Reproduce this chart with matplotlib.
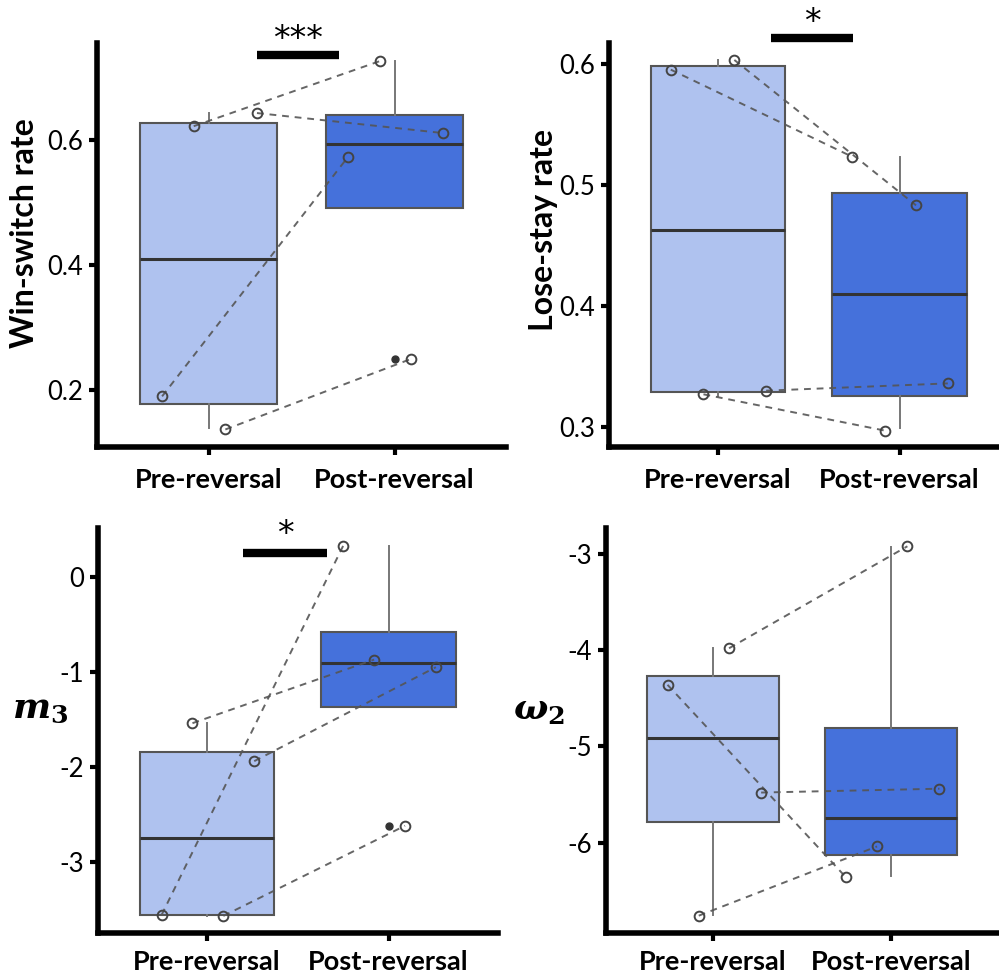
import matplotlib
matplotlib.use("Agg")
import matplotlib.pyplot as plt

plt.rcParams['font.family'] = ['Lato', 'DejaVu Sans']
plt.rcParams['mathtext.fontset'] = 'custom'
plt.rcParams['mathtext.it'] = 'DejaVu Serif:italic:bold'
plt.rcParams['mathtext.rm'] = 'DejaVu Serif:bold'
plt.rcParams['mathtext.bf'] = 'DejaVu Serif:bold'

categories = ["Pre-reversal", "Post-reversal"]
ylabels = ["Win-switch rate", "Lose-stay rate", r"$m_3$", r"$\omega_2$"]

# box statistics: (whislo, q1, med, q3, whishi)
ws_box = [(0.139, 0.178, 0.410, 0.627, 0.643), (0.491, 0.491, 0.594, 0.640, 0.726)]
ls_box = [(0.326, 0.329, 0.463, 0.598, 0.603), (0.299, 0.326, 0.410, 0.493, 0.523)]
m3_box = [(-3.57, -3.56, -2.75, -1.84, -1.54), (-1.37, -1.37, -0.905, -0.58, 0.33)]
w2_box = [(-6.75, -5.79, -4.91, -4.27, -3.98), (-6.35, -6.13, -5.74, -4.81, -2.93)]

# outliers
ws_out = [[], [0.250]]
ls_out = [[], []]
m3_out = [[], [-2.62]]
w2_out = [[], []]

# subject values (pre, post)
ws_pre = [0.622, 0.643, 0.190, 0.137]
ws_post = [0.726, 0.611, 0.573, 0.250]
ws_jit = [-0.08, 0.26, -0.25, 0.09]

ls_pre = [0.595, 0.603, 0.327, 0.330]
ls_post = [0.523, 0.483, 0.297, 0.336]
ls_jit = [-0.26, 0.09, -0.08, 0.265]

m3_pre = [-1.54, -1.94, -3.56, -3.57]
m3_post = [-0.87, -0.95, 0.33, -2.62]
m3_jit = [-0.08, 0.26, -0.25, 0.09]

w2_pre = [-3.98, -4.36, -5.48, -6.76]
w2_post = [-2.92, -6.36, -5.44, -6.04]
w2_jit = [0.09, -0.255, 0.27, -0.08]

ws_ticks = [0.2, 0.4, 0.6]
ls_ticks = [0.3, 0.4, 0.5, 0.6]
m3_ticks = [-3, -2, -1, 0]
w2_ticks = [-6, -5, -4, -3]

ws_lim = (0.109, 0.755)
ls_lim = (0.2835, 0.617)
m3_lim = (-3.75, 0.516)
w2_lim = (-6.94, -2.73)

# significance: (x0, x1, y, label, label_y)
ws_sig = (1.26, 1.70, 0.736, "***", 0.760)
ls_sig = (1.29, 1.745, 0.621, "*", 0.634)
m3_sig = (1.20, 1.66, 0.25, "*", 0.45)

fills = ["#AFC2EF", "#4571DB"]

W, H = 999, 980
fig = plt.figure(figsize=(W / 100, H / 100), dpi=100)

def rect(x_axis, y_top, y_bot, tick1):
    ppu = (tick1 - x_axis) / 0.6
    left = x_axis / W
    width = 2.2 * ppu / W
    bottom = 1 - y_bot / H
    height = (y_bot - y_top) / H
    return [left, bottom, width, height]

panels = [
    (rect(97, 43, 447, 208.6), ws_box, ws_out, ws_pre, ws_post, ws_jit, ws_ticks, ws_lim, ws_sig, ylabels[0], ["0.2", "0.4", "0.6"], (-0.176, 0.53)),
    (rect(609, 43, 447, 718), ls_box, ls_out, ls_pre, ls_post, ls_jit, ls_ticks, ls_lim, ls_sig, ylabels[1], ["0.3", "0.4", "0.5", "0.6"], (-0.164, 0.537)),
    (rect(98, 528, 933, 207), m3_box, m3_out, m3_pre, m3_post, m3_jit, m3_ticks, m3_lim, m3_sig, ylabels[2], ["-3", "-2", "-1", "0"], (-0.145, 0.555)),
    (rect(606, 528, 933, 713), w2_box, w2_out, w2_pre, w2_post, w2_jit, w2_ticks, w2_lim, None, ylabels[3], ["-6", "-5", "-4", "-3"], (-0.17, 0.55)),
]

for i, (pos, box, outl, pre, post, jit, ticks, lim, sig, ylab, tlabels, lc) in enumerate(panels):
    ax = fig.add_axes(pos)
    stats = []
    for b, o in zip(box, outl):
        stats.append(dict(whislo=b[0], q1=b[1], med=b[2], q3=b[3], whishi=b[4], fliers=o))
    bp = ax.bxp(stats, positions=[1, 2], widths=0.74, patch_artist=True, showcaps=False,
                boxprops=dict(edgecolor="#555555", linewidth=1.5),
                medianprops=dict(color="#333333", linewidth=2.2),
                whiskerprops=dict(color="#777777", linewidth=1.4),
                flierprops=dict(marker="o", markersize=5, markerfacecolor="#333333",
                                markeredgecolor="#333333"))
    for patch, c in zip(bp["boxes"], fills):
        patch.set_facecolor(c)
    for a, b, j in zip(pre, post, jit):
        ax.plot([1 + j, 2 + j], [a, b], linestyle=(0, (3.5, 3)), color="#555555",
                linewidth=1.4, alpha=0.9, zorder=4)
        ax.plot([1 + j, 2 + j], [a, b], linestyle="none", marker="o", markersize=7,
                markerfacecolor="none", markeredgecolor="#444444", markeredgewidth=1.4,
                zorder=5)
    ax.set_xlim(0.4, 2.6)
    ax.set_ylim(*lim)
    ax.set_yticks(ticks)
    ax.set_yticklabels(tlabels)
    ax.set_xticks([1, 2])
    ax.set_xticklabels(categories, fontweight="bold", fontsize=19.5)
    for s in ["top", "right"]:
        ax.spines[s].set_visible(False)
    for s in ["left", "bottom"]:
        ax.spines[s].set_linewidth(4)
        ax.spines[s].set_capstyle("projecting")
    ax.tick_params(axis="both", width=3, length=6, colors="black")
    ax.tick_params(axis="y", labelsize=18.5, pad=4)
    ax.tick_params(axis="x", pad=9 if i < 2 else 6)
    if i < 2:
        ax.set_ylabel(ylab, fontsize=23, fontweight="bold", va="center")
    else:
        ax.set_ylabel(ylab, fontsize=26, rotation=0, va="center", ha="center")
    ax.yaxis.set_label_coords(*lc)
    if sig is not None:
        x0, x1, y, lab, ly = sig
        ax.plot([x0, x1], [y, y], color="black", linewidth=6, solid_capstyle="butt",
                clip_on=False, zorder=6)
        ax.text((x0 + x1) / 2, ly, lab, ha="center", va="center", fontsize=24,
                family="DejaVu Sans", clip_on=False)
    ax.set_facecolor("none")

fig.savefig("out.png", dpi=100, facecolor="white")
